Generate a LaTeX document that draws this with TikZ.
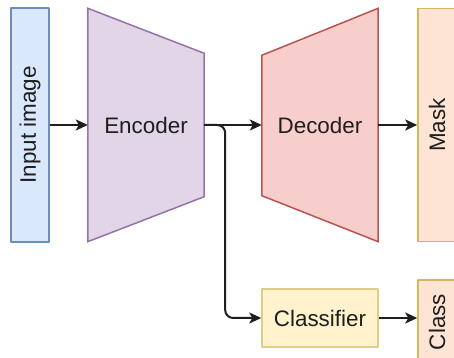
\documentclass[tikz,border=0pt]{standalone}
\usepackage{fontspec}
\setmainfont{Liberation Sans}
\usetikzlibrary{arrows.meta,backgrounds,calc}
\definecolor{inpfill}{HTML}{DAE8FC}
\definecolor{inpline}{HTML}{6C8EBF}
\definecolor{encfill}{HTML}{E1D5E7}
\definecolor{encline}{HTML}{9673A6}
\definecolor{decfill}{HTML}{F8CECC}
\definecolor{decline}{HTML}{B85450}
\definecolor{clsfill}{HTML}{FFF2CC}
\definecolor{outfill}{HTML}{FDE4D4}
\definecolor{yelline}{HTML}{D6B656}
\definecolor{txt}{HTML}{1E1E1E}
\tikzset{
  box/.style={draw,line width=1.5bp,inner sep=0pt,text=txt,font=\fontsize{22.5}{26}\selectfont},
  blk/.style={inner sep=0pt,text=txt,font=\fontsize{22.5}{26}\selectfont,minimum width=116bp,minimum height=233bp},
  vlabel/.style={rotate=90,text=txt,font=\fontsize{22.5}{26}\selectfont},
  link/.style={txt,line width=2bp,->},
}
\begin{document}
\begin{tikzpicture}[>={Stealth[length=12bp,width=11bp,inset=3bp]},line join=bevel]
\useasboundingbox (0bp,0bp) rectangle (454bp,358bp);
\clip (0bp,0bp) rectangle (454bp,358bp);
%%
\node (node_input) at (30bp,233bp) [box,draw=inpline,fill=inpfill,minimum width=38bp,minimum height=234bp] {};
  \node at (node_input) [vlabel] {Input image};
  \node (node_enc) at (146bp,233bp) [blk] {Encoder};
  \node (node_dec) at (320bp,233bp) [blk] {Decoder};
  \node (node_mask) at (437bp,233bp) [box,draw=yelline,fill=outfill,minimum width=38bp,minimum height=233bp] {};
  \node at (node_mask) [vlabel] {Mask};
  \node (node_cls) at (320bp,40bp) [box,draw=yelline!70,fill=clsfill,minimum width=116bp,minimum height=58bp] {Classifier};
  \node (node_class) at (437bp,36bp) [box,draw=yelline,fill=outfill,minimum width=38bp,minimum height=84bp] {};
  \node at (node_class) [vlabel] {Class};
%
\begin{scope}[on background layer]
  \draw [line width=1.5bp,draw=encline,fill=encfill] (node_enc.north west) -- ($(node_enc.north east)+(0,-45bp)$) -- ($(node_enc.south east)+(0,45bp)$) -- (node_enc.south west) -- cycle;
  \draw [line width=1.5bp,draw=decline,fill=decfill] ($(node_dec.north west)+(0,-47bp)$) -- (node_dec.north east) -- (node_dec.south east) -- ($(node_dec.south west)+(0,46bp)$) -- cycle;
\end{scope}
%
  \draw [link] (node_input) -- (node_enc);
  \draw [link] (node_enc) -- (node_dec);
  \draw [link] (node_dec) -- (node_mask);
  \draw [link,rounded corners=8bp] (node_enc.east) -- ++(21bp,0) |- (node_cls.west);
  \draw [link] (node_cls) -- (node_class.west |- node_cls);
%
\end{tikzpicture}
\end{document}
